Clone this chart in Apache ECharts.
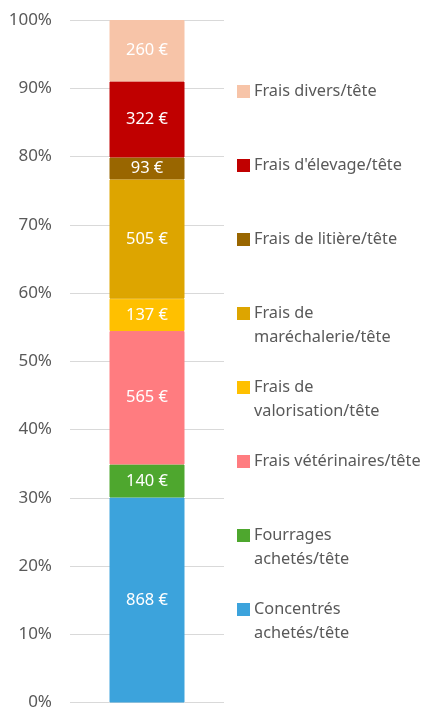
<!DOCTYPE html>
<html>
<head>
<meta charset="utf-8">
<script src="https://cdn.jsdelivr.net/npm/echarts@6/dist/echarts.min.js"></script>
<style>
  html, body { margin: 0; padding: 0; background: #fff; }
  #chart { width: 423px; height: 711px; }
</style>
</head>
<body>
<div id="chart"></div>
<script>
// series bottom -> top of the stack
const seriesNames = [
  'Concentrés achetés/tête',
  'Fourrages achetés/tête',
  'Frais vétérinaires/tête',
  'Frais de valorisation/tête',
  'Frais de maréchalerie/tête',
  'Frais de litière/tête',
  "Frais d'élevage/tête",
  'Frais divers/tête'
]
const seriesValues = [868, 140, 565, 137, 505, 93, 322, 260]
const seriesColors = ['#3ca3dc', '#4ea72e', '#ff7c80', '#ffc000', '#dda500', '#996600', '#c00000', '#f7c4a8']
// legend text, with the wraps of the original
const legendLabels = [
  'Concentrés\nachetés/tête',
  'Fourrages\nachetés/tête',
  'Frais vétérinaires/tête',
  'Frais de\nvalorisation/tête',
  'Frais de\nmaréchalerie/tête',
  'Frais de litière/tête',
  "Frais d'élevage/tête",
  'Frais divers/tête'
]
const yTicks = [0, 10, 20, 30, 40, 50, 60, 70, 80, 90, 100]

const FONT = 'Noto Sans'
const total = seriesValues.reduce((a, b) => a + b, 0)

const chart = echarts.init(document.getElementById('chart'))

const series = seriesNames.map((name, i) => ({
  name,
  type: 'bar',
  stack: 'total',
  barWidth: 75,
  data: [seriesValues[i] / total * 100],
  itemStyle: { color: seriesColors[i], borderColor: seriesColors[i], borderWidth: 1 },
  label: {
    show: true,
    position: 'inside',
    color: '#fff',
    fontFamily: FONT,
    fontSize: 16.5,
    formatter: () => seriesValues[i] + ' €'
  }
}))

// every legend entry is 3 lines tall with its first text line in the middle,
// so the markers sit on the first line and the slots stay even
const LINE = 24
const legendText = label => {
  const lines = label.split('\n')
  return lines.length === 1 ? '\n' + label + '\n' : '\n' + label
}

const option = {
  animation: false,
  grid: { left: 70, right: 199, top: 20, bottom: 6 },
  xAxis: {
    type: 'category',
    data: [''],
    axisLine: { show: false },
    axisTick: { show: false },
    axisLabel: { show: false }
  },
  yAxis: {
    type: 'value',
    min: 0,
    max: 100,
    interval: 10,
    axisLine: { show: false },
    axisTick: { show: false },
    splitLine: { lineStyle: { color: '#d9d9d9', width: 1 } },
    axisLabel: {
      color: '#595959',
      fontFamily: FONT,
      fontSize: 17,
      margin: 18,
      formatter: v => (yTicks.includes(v) ? v + '%' : '')
    }
  },
  legend: {
    orient: 'vertical',
    left: 237,
    top: 55.5,
    padding: 0,
    itemGap: 2,
    itemWidth: 11,
    itemHeight: 11,
    icon: 'rect',
    selectedMode: false,
    data: seriesNames.slice().reverse(),
    formatter: name => legendText(legendLabels[seriesNames.indexOf(name)]),
    textStyle: {
      color: '#595959',
      fontFamily: FONT,
      fontSize: 16.3,
      lineHeight: LINE
    }
  },
  series
}

chart.setOption(option)
</script>
</body>
</html>
